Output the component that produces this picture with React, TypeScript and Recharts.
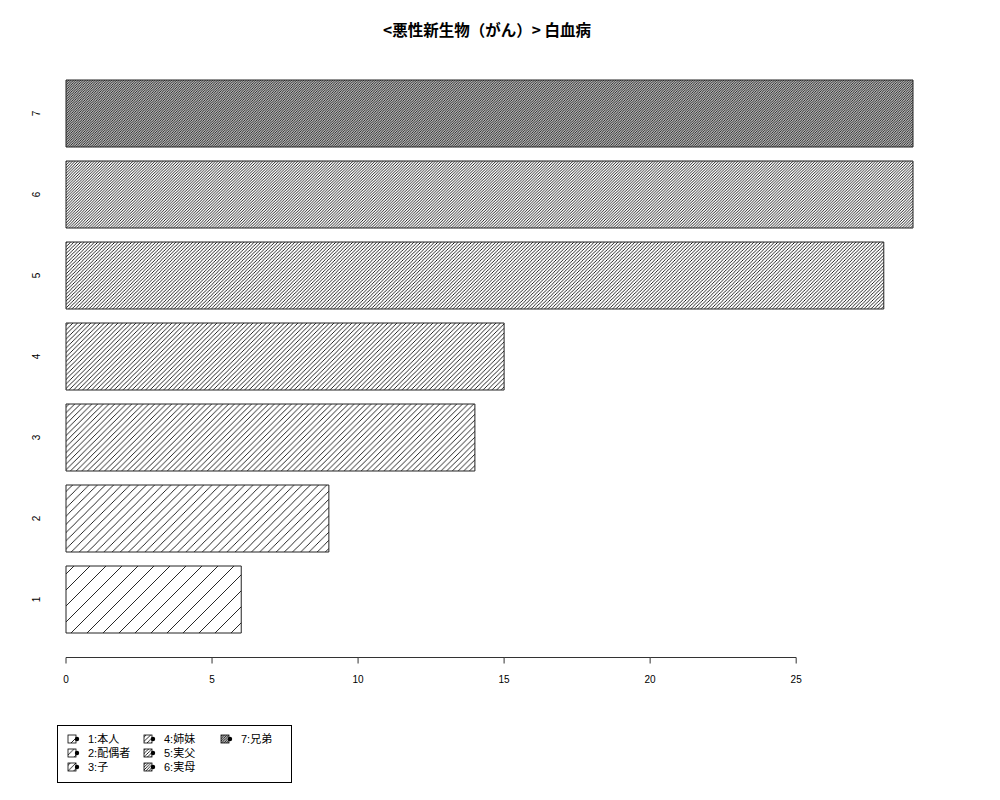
import React from "react";
import { Bar, BarChart, Cell, XAxis, YAxis } from "recharts";

const categories = ["1", "2", "3", "4", "5", "6", "7"];
const counts = [6, 9, 14, 15, 28, 29, 29];
const legendLabels = ["1:本人", "2:配偶者", "3:子", "4:姉妹", "5:実父", "6:実母", "7:兄弟"];
const xTicks = [0, 5, 10, 15, 20, 25];
const title = "<悪性新生物（がん）> 白血病";

const rows = categories.map((name, i) => ({ name, value: counts[i] }));

// chart frame
const W = 1000;
const H = 800;
const LEFT = 66;
const RIGHT = 87;
const X_MAX = 29;
const TICK_STEP = ((W - LEFT - RIGHT) * 5) / X_MAX;
const FONT = '"Liberation Sans", Arial, "Noto Sans CJK JP", sans-serif';

// hatch line spacing in px, denser for each bar (like R's density=)
const hatchGaps = [16, 8.2, 5.7, 4.5, 3.4, 2.75, 2.4];

function Hatches() {
  return (
    <svg width={0} height={0} style={{ position: "absolute" }}>
      <defs>
        {hatchGaps.map((s, i) => (
          <pattern key={i} id={`hatch${i}`} patternUnits="userSpaceOnUse" width={s} height={s}>
            <rect width={s} height={s} fill="#fff" />
            <path
              d={`M0,${s} L${s},0 M${-s / 2},${s / 2} L${s / 2},${-s / 2} M${s / 2},${s * 1.5} L${s * 1.5},${s / 2}`}
              stroke="#000"
              strokeWidth={0.85}
            />
          </pattern>
        ))}
      </defs>
    </svg>
  );
}

function XTick(props: any) {
  const { x, y, payload, index } = props;
  const ly = y + 17.5;
  return (
    <g>
      {index > 0 && <line x1={x - TICK_STEP} x2={x} y1={ly} y2={ly} stroke="#333" />}
      <line x1={x} x2={x} y1={ly} y2={ly + 6} stroke="#333" />
      <text x={x} y={ly + 25} textAnchor="middle" fontSize={10} fontFamily={FONT} fill="#000">
        {payload.value}
      </text>
    </g>
  );
}

function YTick(props: any) {
  const { x, y, payload } = props;
  return (
    <text
      transform={`translate(${x - 30},${y}) rotate(-90)`}
      textAnchor="middle"
      dy="0.35em"
      fontSize={10}
      fontFamily={FONT}
      fill="#000"
    >
      {payload.value}
    </text>
  );
}

function Legend() {
  const colX = [11, 87, 164];
  const rowY = [14, 28, 42];
  return (
    <svg width={235} height={58} style={{ position: "absolute", left: 57, top: 725 }}>
      <rect x={0.5} y={0.5} width={234} height={57} fill="#fff" stroke="#000" />
      {legendLabels.map((label, i) => {
        const cx = colX[Math.floor(i / 3)];
        const cy = rowY[i % 3];
        return (
          <g key={label}>
            <rect x={cx} y={cy - 4} width={8} height={8} fill={`url(#hatch${i})`} stroke="#000" strokeWidth={0.8} />
            <circle cx={cx + 9} cy={cy} r={2.2} fill="#000" />
            <text x={cx + 20} y={cy} dy="0.36em" fontSize={11} fontFamily={FONT} fill="#000">
              {label}
            </text>
          </g>
        );
      })}
    </svg>
  );
}

export default function App() {
  return (
    <div style={{ position: "absolute", left: 0, top: 0, width: W, height: H, background: "#fff" }}>
      <Hatches />
      <div
        style={{
          position: "absolute",
          left: 487,
          top: 20,
          transform: "translateX(-50%)",
          whiteSpace: "nowrap",
          fontFamily: '"Noto Sans CJK JP", sans-serif',
          fontWeight: 700,
          fontSize: 15.5,
          lineHeight: "18px",
        }}
      >
        {title}
      </div>
      <BarChart
        width={W}
        height={H}
        data={rows}
        layout="vertical"
        margin={{ top: 73, right: RIGHT, bottom: 130, left: 0 }}
        barSize={67}
      >
        <XAxis
          type="number"
          domain={[0, X_MAX]}
          ticks={xTicks}
          interval={0}
          axisLine={false}
          tickLine={false}
          tickSize={0}
          tickMargin={0}
          height={30}
          tick={<XTick />}
        />
        <YAxis
          type="category"
          dataKey="name"
          reversed
          width={LEFT}
          axisLine={false}
          tickLine={false}
          tickSize={0}
          tickMargin={0}
          tick={<YTick />}
        />
        <Bar dataKey="value" stroke="#222" strokeWidth={1} isAnimationActive={false}>
          {rows.map((r, i) => (
            <Cell key={r.name} fill={`url(#hatch${i})`} />
          ))}
        </Bar>
      </BarChart>
      <Legend />
    </div>
  );
}
